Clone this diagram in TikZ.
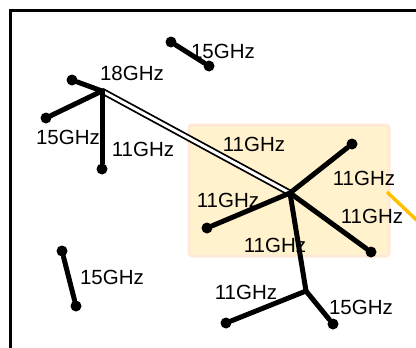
\documentclass[tikz,border=0pt]{standalone}
\usepackage{fontspec}
\setmainfont{Liberation Sans}
\begin{document}
\begin{tikzpicture}[x=1pt,y=-1pt,
  dot/.style={circle,fill=black,inner sep=0pt,minimum size=11pt},
  link/.style={line width=5pt,line cap=round,line join=round},
  dlink/.style={line width=1.8pt,double=white,double distance=3pt},
  lbl/.style={inner sep=0pt,font=\fontsize{20.5}{24}\selectfont},
  zone/.style={fill=zonefill,draw=zoneedge,line width=3pt,rounded corners=3pt},
  feed/.style={draw=feedcol,line width=3.5pt}]
\definecolor{zonefill}{HTML}{FFF2CC}
\definecolor{zoneedge}{HTML}{FFE9D6}
\definecolor{feedcol}{HTML}{FFC000}
\useasboundingbox (0,0) rectangle (416,348);
\clip (0,0) rectangle (416,348);
% frame
\draw[line width=3pt] (10,360) |- (430,10);
% highlighted zone
\node[zone,minimum width=200pt,minimum height=131pt,inner sep=0pt] (zone) at (289,190.5) {};
% feed line
\coordinate (f1) at (387,192);
\coordinate (f2) at (425,228);
\draw[feed] (f1) -- (f2);
% hubs
\coordinate (A) at (102,91);
\coordinate (B) at (290,193);
\coordinate (C) at (306,291);
% dots
\node[dot] (a1) at (72,80) {};
\node[dot] (a2) at (46,118) {};
\node[dot] (a3) at (102,169) {};
\node[dot] (t1) at (171,42) {};
\node[dot] (t2) at (209,66) {};
\node[dot] (b1) at (352,144) {};
\node[dot] (b2) at (207,228) {};
\node[dot] (b3) at (371,252) {};
\node[dot] (c1) at (226,323) {};
\node[dot] (c2) at (333,324) {};
\node[dot] (l1) at (62,251) {};
\node[dot] (l2) at (76,306) {};
% links
\draw[dlink] (A) -- (B);
\draw[link] (A) -- (a1);
\draw[link] (A) -- (a2);
\draw[link] (A) -- (a3);
\draw[link] (t1) -- (t2);
\draw[link] (B) -- (b1);
\draw[link] (B) -- (b2);
\draw[link] (B) -- (b3);
\draw[link] (B) -- (C);
\draw[link] (C) -- (c1);
\draw[link] (C) -- (c2);
\draw[link] (l1) -- (l2);
% labels
\node[lbl] (L1) at (223,51) {15GHz};
\node[lbl] (L2) at (132,73) {18GHz};
\node[lbl] (L3) at (68,137) {15GHz};
\node[lbl] (L4) at (143,149) {11GHz};
\node[lbl] (L5) at (254,144) {11GHz};
\node[lbl] (L6) at (364,178) {11GHz};
\node[lbl] (L7) at (228,200) {11GHz};
\node[lbl] (L8) at (372,216) {11GHz};
\node[lbl] (L9) at (275,245) {11GHz};
\node[lbl] (L10) at (246,292) {11GHz};
\node[lbl] (L11) at (361,307) {15GHz};
\node[lbl] (L12) at (112,277) {15GHz};
\end{tikzpicture}
\end{document}
